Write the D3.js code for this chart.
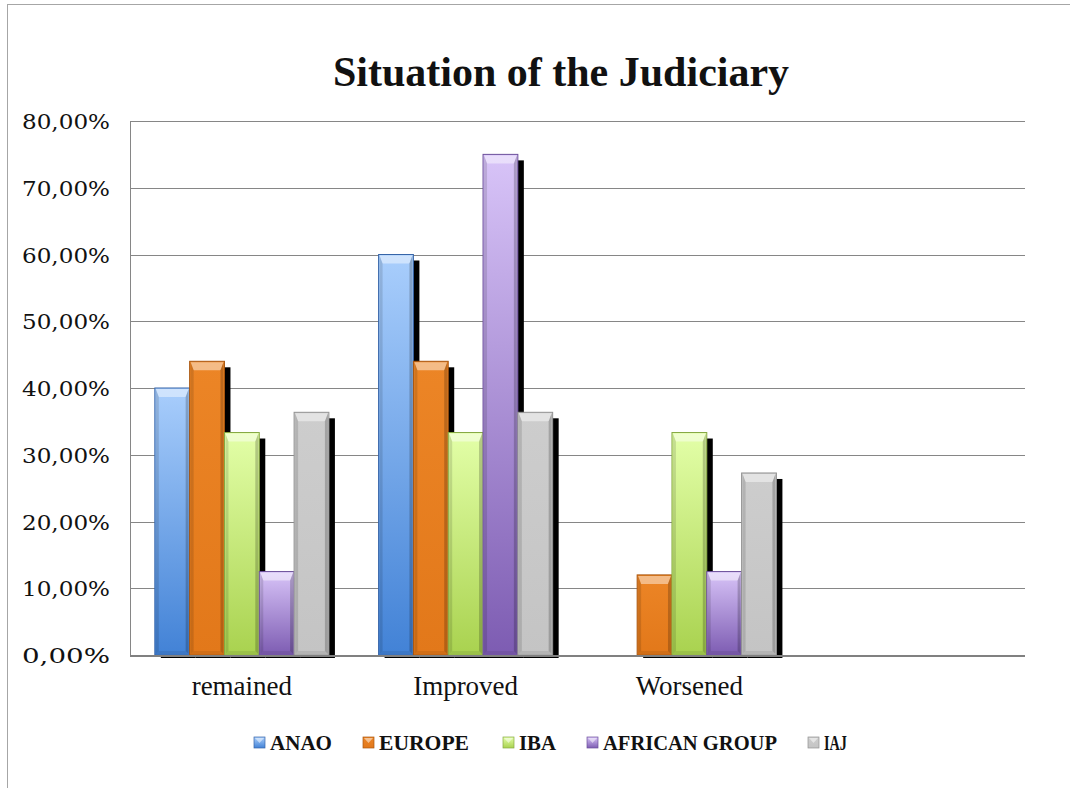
<!DOCTYPE html>
<html>
<head>
<meta charset="utf-8">
<script src="https://cdnjs.cloudflare.com/ajax/libs/d3/7.8.5/d3.min.js"></script>
<style>
  body { margin: 0; background: #fff; }
  svg { display: block; }
</style>
</head>
<body>
<div id="chart"></div>
<script>
// data
const categories = ["remained", "Improved", "Worsened", ""];
const series = ["ANAO", "EUROPE", "IBA", "AFRICAN GROUP", "IAJ"];
const anao = [40, 60, 0, null];
const europe = [44, 44, 12, null];
const iba = [33.33, 33.33, 33.33, null];
const african = [12.5, 75, 12.5, null];
const iaj = [36.36, 36.36, 27.27, null];
const yTicks = [0, 10, 20, 30, 40, 50, 60, 70, 80];

const values = [anao, europe, iba, african, iaj];

const width = 1070, height = 788;
const margin = { top: 121, right: 45, bottom: 133, left: 130 };

// colours: top, bottom, edge
const colors = {
    "ANAO": ["#a9cefc", "#4282d6", "#3765a8"],
    "EUROPE": ["#ec8526", "#e2781a", "#a9560f"],
    "IBA": ["#e3ffa8", "#a9d24f", "#86a843"],
    "AFRICAN GROUP": ["#d8c4f8", "#7d5cb2", "#6c4f9a"],
    "IAJ": ["#cdcdcd", "#c4c4c4", "#929292"]
};

const svg = d3.select("#chart").append("svg")
    .attr("width", width).attr("height", height);

const defs = svg.append("defs");
series.forEach((s, i) => {
    const g = defs.append("linearGradient")
        .attr("id", "grad" + i)
        .attr("x1", 0).attr("y1", 0).attr("x2", 0).attr("y2", 1);
    g.append("stop").attr("offset", "0%").attr("stop-color", colors[s][0]);
    g.append("stop").attr("offset", "100%").attr("stop-color", colors[s][1]);
});

// outer chart border
svg.append("rect")
    .attr("x", 7.5).attr("y", 4.5)
    .attr("width", 1200).attr("height", 900)
    .attr("fill", "none")
    .attr("stroke", "#a6a6a6");

const x = d3.scaleBand()
    .domain(categories)
    .range([margin.left, width - margin.right])
    .paddingInner(0.222)
    .paddingOuter(0.111);

const xs = d3.scaleBand()
    .domain(series)
    .range([0, x.bandwidth()]);

const y = d3.scaleLinear()
    .domain([0, 80])
    .range([height - margin.bottom, margin.top]);

const locale = d3.formatLocale({ decimal: ",", thousands: ".", grouping: [3], currency: ["", ""] });
const fmt = v => locale.format(".2f")(v) + "%";

// gridlines
svg.append("g")
    .selectAll("line")
    .data(yTicks.filter(d => d > 0))
    .join("line")
    .attr("x1", margin.left).attr("x2", width - margin.right)
    .attr("y1", d => Math.round(y(d)) + 0.5).attr("y2", d => Math.round(y(d)) + 0.5)
    .attr("stroke", "#868686");

// y axis line
svg.append("line")
    .attr("x1", margin.left + 0.5).attr("x2", margin.left + 0.5)
    .attr("y1", y(80)).attr("y2", y(0))
    .attr("stroke", "#868686");

// y tick labels
svg.append("g")
    .selectAll("text")
    .data(yTicks)
    .join("text")
    .attr("x", 110)
    .attr("y", d => y(d) + 8)
    .attr("text-anchor", "end")
    .attr("font-family", "'DejaVu Serif', serif")
    .attr("font-size", 21)
    .attr("fill", "#111")
    .attr("textLength", 88)
    .attr("lengthAdjust", "spacingAndGlyphs")
    .text(d => fmt(d));

// bars
const bars = [];
categories.forEach((c, ci) => {
    series.forEach((s, si) => {
        const v = values[si][ci];
        if (v) bars.push({ cat: c, s: s, si: si, v: v });
    });
});

const bw = xs.bandwidth();
const base = y(0);

svg.append("g").selectAll("rect")
    .data(bars)
    .join("rect")
    .attr("x", d => x(d.cat) + xs(d.s) + 6)
    .attr("y", d => y(d.v) + 6)
    .attr("width", bw)
    .attr("height", d => base + 3 - (y(d.v) + 6))
    .attr("fill", "#000");

const barG = svg.append("g").selectAll("g")
    .data(bars)
    .join("g")
    .attr("transform", d => `translate(${x(d.cat) + xs(d.s)},${y(d.v)})`);

barG.append("rect")
    .attr("width", bw)
    .attr("height", d => base - y(d.v))
    .attr("fill", d => `url(#grad${d.si})`)
    .attr("stroke", d => colors[d.s][2])
    .attr("stroke-width", 1);

const bev = 4, bevTop = 9;
// top highlight
barG.append("path")
    .attr("d", d => `M1,1 L${bw - 1},1 L${bw - bev},${bevTop} L${bev},${bevTop} Z`)
    .attr("fill", "#fff")
    .attr("opacity", 0.45);
// left edge
barG.append("path")
    .attr("d", d => {
        const h = base - y(d.v);
        return `M1,1 L${bev},${bevTop} L${bev},${h - bev} L1,${h - 1} Z`;
    })
    .attr("fill", "#000")
    .attr("opacity", 0.12);
// right edge
barG.append("path")
    .attr("d", d => {
        const h = base - y(d.v);
        return `M${bw - 1},1 L${bw - bev},${bevTop} L${bw - bev},${h - bev} L${bw - 1},${h - 1} Z`;
    })
    .attr("fill", "#000")
    .attr("opacity", 0.2);
// bottom edge
barG.append("path")
    .attr("d", d => {
        const h = base - y(d.v);
        return `M1,${h - 1} L${bev},${h - bev} L${bw - bev},${h - bev} L${bw - 1},${h - 1} Z`;
    })
    .attr("fill", "#000")
    .attr("opacity", 0.08);

// zero axis line
svg.append("line")
    .attr("x1", margin.left).attr("x2", width - margin.right)
    .attr("y1", base + 1).attr("y2", base + 1)
    .attr("stroke", "#808080")
    .attr("stroke-width", 2);

// category labels
svg.append("g")
    .selectAll("text")
    .data(categories.filter(c => c !== ""))
    .join("text")
    .attr("x", d => x(d) + x.bandwidth() / 2)
    .attr("y", 695)
    .attr("text-anchor", "middle")
    .attr("font-family", "'Liberation Serif', serif")
    .attr("font-size", 27)
    .attr("fill", "#111")
    .text(d => d);

// title
svg.append("text")
    .attr("x", 561)
    .attr("y", 86)
    .attr("text-anchor", "middle")
    .attr("font-family", "'Liberation Serif', serif")
    .attr("font-weight", "bold")
    .attr("font-size", 42)
    .attr("fill", "#111")
    .text("Situation of the Judiciary");

// legend
const legendX = [270, 379, 519, 603, 824];
const legendW = [62, 90, 37, 174, 23];
const legend = svg.append("g").selectAll("g")
    .data(series)
    .join("g")
    .attr("transform", (d, i) => `translate(${legendX[i]},743)`);

legend.append("rect")
    .attr("x", -16).attr("y", -6)
    .attr("width", 11).attr("height", 11)
    .attr("fill", (d, i) => `url(#grad${i})`)
    .attr("stroke", d => colors[d][2])
    .attr("stroke-width", 0.7);

legend.append("path")
    .attr("d", "M-15,-5 L-6,-5 L-10.5,0 Z")
    .attr("fill", "#fff")
    .attr("opacity", 0.5);

legend.append("text")
    .attr("x", 0)
    .attr("y", 7)
    .attr("font-family", "'Liberation Serif', serif")
    .attr("font-weight", "bold")
    .attr("font-size", 20)
    .attr("fill", "#111")
    .attr("textLength", (d, i) => legendW[i])
    .attr("lengthAdjust", "spacingAndGlyphs")
    .text(d => d);
</script>
</body>
</html>
